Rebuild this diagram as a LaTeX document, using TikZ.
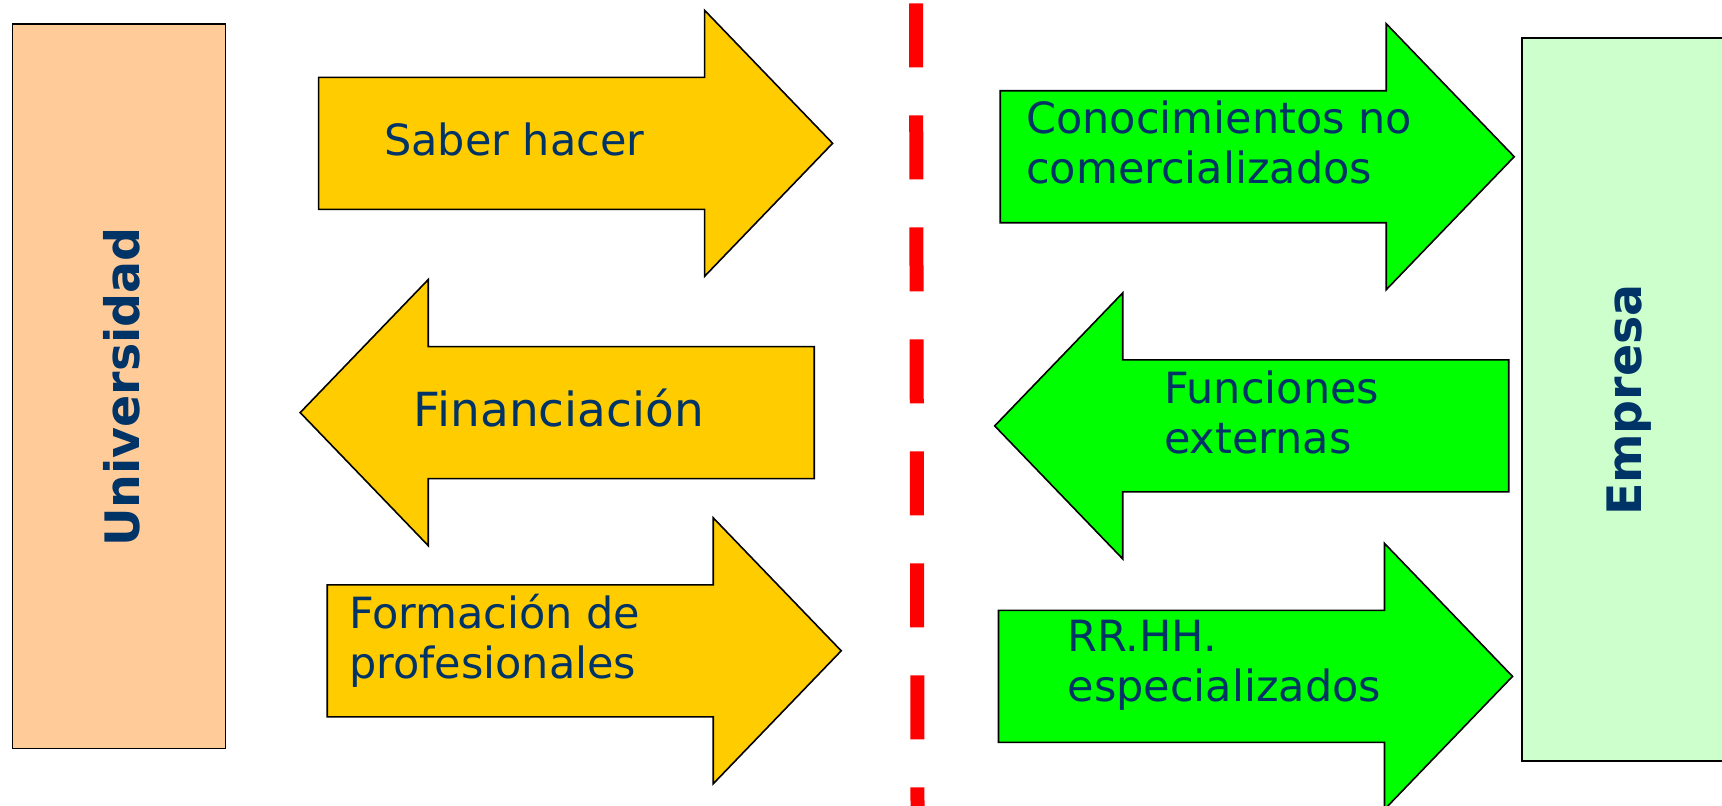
\documentclass[tikz,border=0pt]{standalone}
\usepackage{fontspec}
\setmainfont{DejaVu Sans}
\definecolor{navy}{HTML}{003366}
\definecolor{gold}{HTML}{FFCC00}
\definecolor{lime}{HTML}{00FF00}
\definecolor{peach}{HTML}{FFCC99}
\definecolor{mint}{HTML}{CCFFCC}
\definecolor{dashred}{HTML}{FF0000}
\newcommand\RArrowShape[3]{%
  \filldraw[arrowshape, fill=#3] (#1,#2-66) -- ++(386,0) -- ++(0,-67) -- ++(128,133)
    -- ++(-128,133) -- ++(0,-67) -- ++(-386,0) -- cycle;}
\newcommand\LArrowShape[3]{%
  \filldraw[arrowshape, fill=#3] (#1,#2) -- ++(128,-133) -- ++(0,67) -- ++(386,0)
    -- ++(0,132) -- ++(-386,0) -- ++(0,67) -- cycle;}
\begin{document}
\begin{tikzpicture}[x=1pt,y=-1pt,
  arrowshape/.style={draw=black, line width=1.6pt, line join=miter},
  sidebox/.style={draw=black, line width=1.6pt},
  lbl/.style={text=navy, inner sep=0pt, align=left, font=\fontsize{43}{50}\selectfont},
  biglbl/.style={text=navy, inner sep=0pt, font=\fontsize{47}{56}\selectfont},
  sidelbl/.style={text=navy, inner sep=0pt, rotate=90, anchor=base, font=\bfseries\fontsize{47.5}{56}\selectfont},
  divider/.style={draw=dashred, line width=14pt, dash pattern=on 64pt off 48pt}]
\useasboundingbox (0,0) rectangle (1722,806);
\clip (0,0) rectangle (1722,806);
\fill[white] (0,0) rectangle (1722,806);
% side boxes
\filldraw[sidebox, fill=peach] (12.6,24) rectangle (225.6,748.3);
\filldraw[sidebox, fill=mint] (1521.9,37.7) rectangle (1736,760.7);
\node[sidelbl] (univ) at (139,387) {Universidad};
\node[sidelbl] (emp) at (1641,400) {Empresa};
% divider
\coordinate (dtop) at (916,3.3);
\coordinate (dbot) at (917.5,806);
\draw[divider] (dtop) -- (dbot);
% left arrows
\RArrowShape{318.6}{143.3}{gold}
\LArrowShape{300.2}{412.6}{gold}
\RArrowShape{327.2}{650.8}{gold}
% right arrows
\RArrowShape{1000.2}{156.7}{lime}
\LArrowShape{994.7}{425.9}{lime}
\RArrowShape{998.5}{676.4}{lime}
% labels (multi-line labels are anchored at the baseline of their last line)
\node[lbl, anchor=base west] (saber) at (384,155) {Saber hacer};
\node[biglbl, anchor=base west] (finan) at (413.6,426.7) {Financiación};
\node[lbl, anchor=base west] (forma) at (349,678.3) {Formación de\\profesionales};
\node[lbl, anchor=base west] (conoc) at (1026,183.3) {Conocimientos no\\comercializados};
\node[lbl, anchor=base west] (func) at (1164,453.3) {Funciones\\externas};
\node[lbl, anchor=base west] (rrhh) at (1067.5,701.7) {RR.HH.\\especializados};
\end{tikzpicture}
\end{document}
